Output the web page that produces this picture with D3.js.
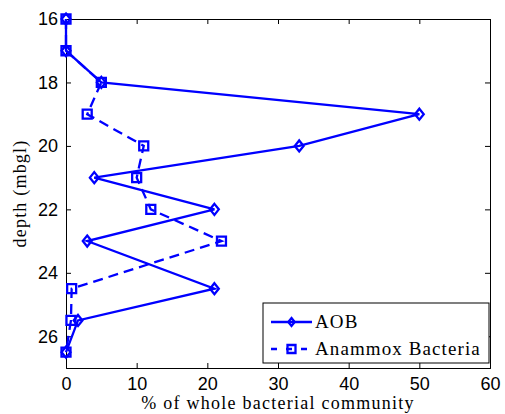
<!DOCTYPE html>
<html>
<head>
<meta charset="utf-8">
<script src="https://cdn.jsdelivr.net/npm/d3@7"></script>
<style>
  body { margin: 0; background: #fff; }
</style>
</head>
<body>
<svg id="chart"></svg>
<script>
// depth (mbgl) of each sample
const depths = [16, 17, 18, 19, 20, 21, 22, 23, 24.5, 25.5, 26.5];
// % of whole bacterial community
const aob = [0, 0, 5, 50, 33, 4, 21, 3, 21, 1.7, 0];
const anammox = [0, 0, 5, 3, 11, 10, 12, 22, 0.8, 0.7, 0];
const xTicks = [0, 10, 20, 30, 40, 50, 60];
const yTicks = [16, 18, 20, 22, 24, 26];

const width = 505, height = 414;
const marginLeft = 66, marginRight = 15, marginTop = 19, marginBottom = 46;
const blue = "#0000ff";

const svg = d3.select("#chart")
    .attr("width", width)
    .attr("height", height)
    .attr("viewBox", [0, 0, width, height]);

const x = d3.scaleLinear([0, 60], [marginLeft, width - marginRight]);
const y = d3.scaleLinear([16, 27], [marginTop, height - marginBottom]);

// axes box with inward ticks on all sides
const tickFont = "Liberation Sans, Arial, sans-serif";
const serif = "Liberation Serif, serif";
svg.append("g")
    .attr("transform", `translate(0,${height - marginBottom})`)
    .call(d3.axisBottom(x).tickValues(xTicks).tickSize(-5).tickPadding(9))
    .call(g => g.selectAll("text").attr("font-size", 18).attr("font-family", tickFont).attr("fill", "#000"));
svg.append("g")
    .attr("transform", `translate(0,${marginTop})`)
    .call(d3.axisTop(x).tickValues(xTicks).tickSize(-5).tickFormat(""));
svg.append("g")
    .attr("transform", `translate(${marginLeft},0)`)
    .call(d3.axisLeft(y).tickValues(yTicks).tickSize(-5).tickPadding(8))
    .call(g => g.selectAll("text").attr("font-size", 18).attr("font-family", tickFont).attr("fill", "#000"));
svg.append("g")
    .attr("transform", `translate(${width - marginRight},0)`)
    .call(d3.axisRight(y).tickValues(yTicks).tickSize(-5).tickFormat(""));
svg.selectAll(".domain").attr("stroke", "#000");

// axis labels
svg.append("text")
    .attr("x", (x(0) + x(60)) / 2)
    .attr("y", height - 5)
    .attr("text-anchor", "middle")
    .attr("font-family", serif)
    .attr("font-size", 18)
    .attr("letter-spacing", 1.25)
    .text("% of whole bacterial community");
svg.append("text")
    .attr("transform", `translate(26,${(y(16) + y(27)) / 2}) rotate(-90)`)
    .attr("text-anchor", "middle")
    .attr("font-family", serif)
    .attr("font-size", 18)
    .attr("letter-spacing", 1.2)
    .text("depth (mbgl)");

const line = d3.line()
    .x(d => x(d[0]))
    .y(d => y(d[1]));

const aobPts = depths.map((d, i) => [aob[i], d]);
const anaPts = depths.map((d, i) => [anammox[i], d]);

const diamond = (cx, cy, r) => `M${cx},${cy - r}L${cx + r * 0.8},${cy}L${cx},${cy + r}L${cx - r * 0.8},${cy}Z`;
const square = (cx, cy, r) => `M${cx - r},${cy - r}h${2 * r}v${2 * r}h${-2 * r}Z`;

svg.append("path")
    .attr("d", line(anaPts))
    .attr("fill", "none")
    .attr("stroke", blue)
    .attr("stroke-width", 2.3)
    .attr("stroke-dasharray", "10,6");
svg.append("g")
  .selectAll("path")
  .data(anaPts)
  .join("path")
    .attr("d", d => square(x(d[0]), y(d[1]), 4.5))
    .attr("fill", "none")
    .attr("stroke", blue)
    .attr("stroke-width", 2.3);

svg.append("path")
    .attr("d", line(aobPts))
    .attr("fill", "none")
    .attr("stroke", blue)
    .attr("stroke-width", 2.3);
svg.append("g")
  .selectAll("path")
  .data(aobPts)
  .join("path")
    .attr("d", d => diamond(x(d[0]), y(d[1]), 5.5))
    .attr("fill", "none")
    .attr("stroke", blue)
    .attr("stroke-width", 2.3);

// legend
const lg = svg.append("g").attr("transform", "translate(263,303)");
lg.append("rect")
    .attr("width", 226).attr("height", 60)
    .attr("fill", "#fff").attr("stroke", "#000");
const legendItems = [
  {name: "AOB", dash: null, mark: diamond},
  {name: "Anammox Bacteria", dash: "6,9", mark: square}
];
lg.selectAll("g")
  .data(legendItems)
  .join("g")
    .attr("transform", (d, i) => `translate(0,${19 + i * 27})`)
    .each(function(d) {
      const g = d3.select(this);
      g.append("line")
          .attr("x1", 8).attr("x2", 49)
          .attr("stroke", blue).attr("stroke-width", 2.3)
          .attr("stroke-dasharray", d.dash);
      g.append("path")
          .attr("d", d.mark(28.5, 0, 4))
          .attr("fill", "none").attr("stroke", blue).attr("stroke-width", 2.3);
      g.append("text")
          .attr("x", 52).attr("y", 6)
          .attr("font-family", serif)
          .attr("font-size", 19)
          .attr("letter-spacing", 1.1)
          .text(d.name);
    });
</script>
</body>
</html>
